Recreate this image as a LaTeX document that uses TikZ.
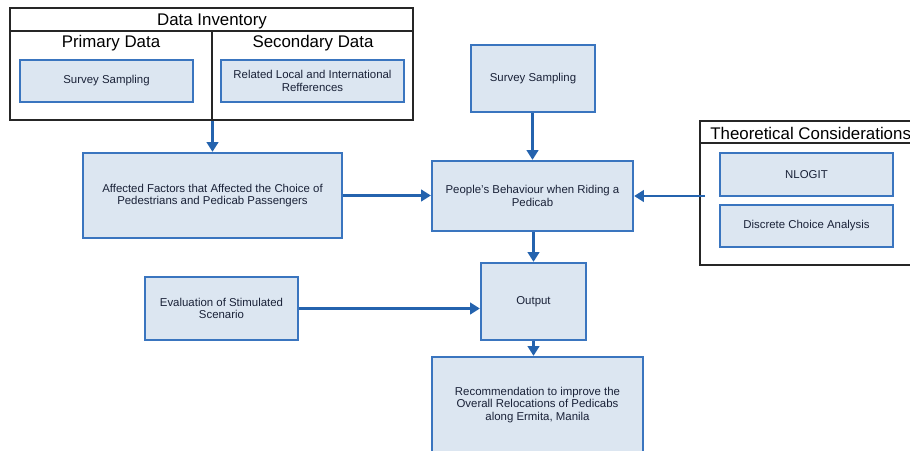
\documentclass[tikz,border=0pt]{standalone}
\usepackage{fontspec}
\setmainfont{Liberation Sans}
\usepackage{xcolor}
\usetikzlibrary{arrows.meta}
\definecolor{boxfill}{HTML}{DCE6F1}
\definecolor{boxline}{HTML}{3A75BF}
\definecolor{flowline}{HTML}{2463AE}
\definecolor{boxtext}{HTML}{1A2238}

\begin{document}
\begin{tikzpicture}[
			     x=0.02cm, y=-0.02cm,
			     stepbox/.style={draw=boxline, line width=1.3pt, fill=boxfill, text=boxtext,
			       align=center, inner sep=2pt, font=\fontsize{6.5}{7}\selectfont},
			     group/.style={draw=black!85, line width=1.1pt},
			     heading/.style={font=\fontsize{9.6}{11}\selectfont, text=black, inner sep=0pt},
			     flow/.style={draw=flowline, line width=1.4pt, -{Triangle[width=6.5pt,length=5.5pt]}}
			     ]
\clip (0,0) rectangle (910,450);
\useasboundingbox (0,0) rectangle (910,450);
% data inventory
\node[group, minimum width=8.06cm, minimum height=2.24cm] (inv) at (211.5,64) {};
\draw[group] (10,31) -- (413,31);
\draw[group] (212,31) -- (212,120);
\node[heading] (invtitle) at (212,21) {Data Inventory};
\node[heading] (prim) at (111,43) {Primary Data};
\node[heading] (sec) at (313,43) {Secondary Data};
\node[stepbox, minimum width=3.46cm, minimum height=0.84cm] (survA) at (106.5,81) {Survey Sampling};
\node[stepbox, minimum width=3.66cm, minimum height=0.84cm] (refs) at (312.5,81) {Related Local and International\\Refferences};
% theoretical considerations
\node[group, minimum width=4.6cm, minimum height=2.88cm] (theo) at (815,193) {};
\draw[group] (700,143) -- (930,143);
\node[heading, anchor=west] (theotitle) at (710,133) {Theoretical Considerations};
\node[stepbox, minimum width=3.46cm, minimum height=0.86cm] (nlogit) at (806.5,174.5) {NLOGIT};
\node[stepbox, minimum width=3.46cm, minimum height=0.84cm] (dca) at (806.5,226) {Discrete Choice Analysis};
\coordinate (theoin) at (705,196);
% main flow
\node[stepbox, minimum width=5.18cm, minimum height=1.7cm] (factors) at (212.5,195.5) {Affected Factors that Affected the Choice of\\Pedestrians and Pedicab Passengers};
\node[stepbox, minimum width=2.48cm, minimum height=1.34cm] (survB) at (533,78.5) {Survey Sampling};
\node[stepbox, minimum width=4.02cm, minimum height=1.4cm] (behav) at (532.5,196) {People's Behaviour when Riding a\\Pedicab};
\node[stepbox, minimum width=2.1cm, minimum height=1.54cm] (output) at (533.5,301.5) {Output};
\node[stepbox, minimum width=3.06cm, minimum height=1.26cm] (evalsc) at (221.5,308.5) {Evaluation of Stimulated\\Scenario};
\node[stepbox, minimum width=4.22cm, minimum height=1.92cm] (recom) at (537.5,405) {Recommendation to improve the\\Overall Relocations of Pedicabs\\along Ermita, Manila};
% connectors
\path (inv.south -| factors.north) edge[flow] (factors.north);
\path (survB.south -| behav.north) edge[flow] (behav.north);
\path (factors.east) edge[flow] (behav.west |- factors.east);
\path (theoin) edge[flow] (behav.east |- theoin);
\path (behav.south -| output.north) edge[flow] (output.north);
\path (evalsc.east) edge[flow] (output.west |- evalsc.east);
\path (output.south) edge[flow] (output.south |- recom.north);
\end{tikzpicture}
\end{document}
